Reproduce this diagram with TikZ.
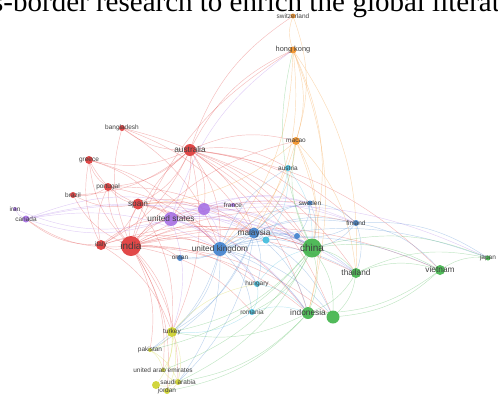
\documentclass[tikz,border=0pt]{standalone}
\usepackage{fontspec}
\setmainfont{Liberation Serif}
\newfontfamily\lblfont{Liberation Sans}
\definecolor{vosRed}{RGB}{222,52,52}
\definecolor{vosGreen}{RGB}{62,178,72}
\definecolor{vosBlue}{RGB}{62,128,204}
\definecolor{vosCyan}{RGB}{64,190,222}
\definecolor{vosPurple}{RGB}{166,112,228}
\definecolor{vosYellow}{RGB}{204,208,40}
\definecolor{vosOrange}{RGB}{242,142,32}
\usetikzlibrary{positioning}
\pgfdeclarelayer{background}
\pgfsetlayers{background,main}
\tikzset{
  dot/.style={circle, inner sep=0pt, fill=#1, fill opacity=.9, text opacity=1, draw=none},
  lbl/.style={font=\lblfont\fontsize{6.5}{6.5}\selectfont, text=black!75, inner sep=0pt},
  lblmid/.style={font=\lblfont\fontsize{8.3}{8.3}\selectfont, text=black!75, inner sep=0pt},
  lblbig/.style={font=\lblfont\fontsize{10}{10}\selectfont, text=black!75, inner sep=0pt},
  link/.style={draw=#1, draw opacity=.33, line width=.45pt},
  headtext/.style={inner sep=0pt, font=\fontsize{29}{29}\selectfont},
}

\begin{document}
\begin{tikzpicture}[x=1pt, y=-1pt]
  \clip (0,0) rectangle (498,397);
  \node[headtext, anchor=base west] (headline) at (-8,11) {s-border research to enrich the};
  \node[headtext, anchor=base west] (headline2) at (headline.base east) {\ global literature};

  \node[dot=vosRed, minimum size=20pt, label={[lblbig]center:india}] (india) at (131,246) {};
  \node[dot=vosRed, minimum size=12pt, label={[lblmid]center:australia}] (australia) at (190,150) {};
  \node[dot=vosRed, minimum size=11pt, label={[lblmid]center:spain}] (spain) at (138,204) {};
  \node[dot=vosRed, minimum size=10pt, label={[lbl]center:italy}] (italy) at (101,245) {};
  \node[dot=vosRed, minimum size=8pt, label={[lbl]center:portugal}] (portugal) at (108,187) {};
  \node[dot=vosRed, minimum size=8pt, label={[lbl]center:greece}] (greece) at (89,160) {};
  \node[dot=vosRed, minimum size=6pt, label={[lbl]center:bangladesh}] (bangladesh) at (122,128) {};
  \node[dot=vosRed, minimum size=6pt, label={[lbl]center:brazil}] (brazil) at (73,195) {};

  \node[dot=vosPurple, minimum size=14pt, label={[lblmid]center:united states}] (usa) at (171,219) {};
  \node[dot=vosPurple, minimum size=12pt] (purplex) at (204,209) {};
  \node[dot=vosPurple, minimum size=4pt, label={[lbl]center:france}] (france) at (233,205) {};
  \node[dot=vosPurple, minimum size=7pt, label={[lbl]center:canada}] (canada) at (26,219) {};
  \node[dot=vosPurple, minimum size=4pt, label={[lbl]center:iran}] (iran) at (15,209) {};

  \node[dot=vosBlue, minimum size=14pt, label={[lblmid]center:united kingdom}] (uk) at (220,249) {};
  \node[dot=vosBlue, minimum size=11pt, label={[lblmid]center:malaysia}] (malaysia) at (254,233) {};
  \node[dot=vosBlue, minimum size=6pt] (bluex) at (297,236) {};
  \node[dot=vosBlue, minimum size=5pt, label={[lbl]center:sweden}] (sweden) at (310,203) {};
  \node[dot=vosBlue, minimum size=6pt, label={[lbl]center:finland}] (finland) at (356,223) {};
  \node[dot=vosBlue, minimum size=6pt, label={[lbl]center:oman}] (oman) at (180,258) {};

  \node[dot=vosCyan, minimum size=6pt, label={[lbl]center:austria}] (austria) at (288,168) {};
  \node[dot=vosCyan, minimum size=7pt] (cyanx) at (266,240) {};
  \node[dot=vosCyan, minimum size=6pt, label={[lbl]center:hungary}] (hungary) at (257,284) {};
  \node[dot=vosCyan, minimum size=6pt, label={[lbl]center:romania}] (romania) at (252,312) {};

  \node[dot=vosGreen, minimum size=19pt, label={[lblbig]center:china}] (china) at (312,248) {};
  \node[dot=vosGreen, minimum size=10pt, label={[lblmid]center:thailand}] (thailand) at (356,273) {};
  \node[dot=vosGreen, minimum size=10pt, label={[lblmid]center:vietnam}] (vietnam) at (440,270) {};
  \node[dot=vosGreen, minimum size=5pt, label={[lbl]center:japan}] (japan) at (488,258) {};
  \node[dot=vosGreen, minimum size=12pt, label={[lblmid]center:indonesia}] (indonesia) at (308,313) {};
  \node[dot=vosGreen, minimum size=13pt] (greenx) at (333,317) {};

  \node[dot=vosYellow, minimum size=10pt, label={[lbl]center:turkey}] (turkey) at (172,332) {};
  \node[dot=vosYellow, minimum size=4pt, label={[lbl]center:pakistan}] (pakistan) at (150,350) {};
  \node[dot=vosYellow, minimum size=4pt, label={[lbl]center:united arab emirates}] (uae) at (163,370) {};
  \node[dot=vosYellow, minimum size=8pt] (yellowx) at (156,385) {};
  \node[dot=vosYellow, minimum size=6pt, label={[lbl]center:saudi arabia}] (saudi) at (178,382) {};
  \node[dot=vosYellow, minimum size=6pt, label={[lbl]center:jordan}] (jordan) at (167,391) {};

  \node[dot=vosOrange, minimum size=7pt, label={[lbl, font=\lblfont\fontsize{7.4}{7.4}\selectfont]center:hong kong}] (hongkong) at (293,50) {};
  \node[dot=vosOrange, minimum size=8pt, label={[lbl]center:macao}] (macao) at (296,141) {};
  \node[dot=vosOrange, minimum size=5pt, label={[lbl]center:switzerland}] (switzerland) at (293,16) {};

  \begin{pgfonlayer}{background}
    \foreach \t in {australia,spain,italy,portugal,greece,bangladesh,brazil,usa,purplex,canada,uk,malaysia,oman,china,thailand,indonesia,turkey,pakistan,saudi,uae,hongkong,macao,hungary,romania,sweden,finland,vietnam,jordan,greenx}
      \draw[link=vosRed] (india) to[bend left=18] (\t);
    \foreach \t in {spain,italy,portugal,greece,bangladesh,brazil,usa,purplex,uk,malaysia,china,hongkong,macao,indonesia,thailand,austria,sweden,finland,turkey,vietnam,switzerland,greenx}
      \draw[link=vosRed] (australia) to[bend left=18] (\t);
    \foreach \t in {portugal,greece,italy,usa,uk,china,brazil,malaysia,turkey,indonesia,purplex}
      \draw[link=vosRed] (spain) to[bend left=18] (\t);
    \foreach \t in {portugal,greece,uk,usa,canada,china,turkey}
      \draw[link=vosRed] (italy) to[bend left=18] (\t);
    \foreach \t in {greece,brazil,uk,malaysia}
      \draw[link=vosRed] (portugal) to[bend left=18] (\t);
    \foreach \t in {malaysia,uk,china}
      \draw[link=vosRed] (bangladesh) to[bend left=18] (\t);
    \foreach \t in {uk,usa}
      \draw[link=vosRed] (greece) to[bend left=18] (\t);
    \foreach \t in {canada,iran,purplex,uk,malaysia,china,sweden,finland,thailand,indonesia,turkey,hongkong,hungary,japan}
      \draw[link=vosPurple] (usa) to[bend left=18] (\t);
    \foreach \t in {uk,malaysia,china,sweden,finland,france,bluex}
      \draw[link=vosPurple] (purplex) to[bend left=18] (\t);
    \foreach \t in {iran,uk,china,malaysia,purplex}
      \draw[link=vosPurple] (canada) to[bend left=18] (\t);
    \foreach \t in {malaysia,sweden,finland,oman,china,thailand,indonesia,turkey,hungary,romania,austria,vietnam,pakistan,saudi,japan,bluex,greenx}
      \draw[link=vosBlue] (uk) to[bend left=18] (\t);
    \foreach \t in {china,sweden,finland,thailand,indonesia,turkey,bluex,cyanx,oman,hungary,pakistan,saudi,greenx}
      \draw[link=vosBlue] (malaysia) to[bend left=18] (\t);
    \foreach \t in {finland,china,bluex}
      \draw[link=vosBlue] (sweden) to[bend left=18] (\t);
    \foreach \t in {china,vietnam,japan,thailand,bluex}
      \draw[link=vosBlue] (finland) to[bend left=18] (\t);
    \foreach \t in {malaysia,china,cyanx}
      \draw[link=vosCyan] (austria) to[bend left=18] (\t);
    \foreach \t in {romania,china,indonesia}
      \draw[link=vosCyan] (hungary) to[bend left=18] (\t);
    \foreach \t in {indonesia,turkey}
      \draw[link=vosCyan] (romania) to[bend left=18] (\t);
    \foreach \t in {thailand,vietnam,japan,indonesia,greenx,hongkong,macao,turkey,pakistan,saudi,romania,uae,bluex}
      \draw[link=vosGreen] (china) to[bend left=18] (\t);
    \foreach \t in {vietnam,indonesia,greenx,japan}
      \draw[link=vosGreen] (thailand) to[bend left=18] (\t);
    \foreach \t in {japan,indonesia,greenx}
      \draw[link=vosGreen] (vietnam) to[bend left=18] (\t);
    \foreach \t in {greenx,turkey,saudi,jordan}
      \draw[link=vosGreen] (indonesia) to[bend left=18] (\t);
    \foreach \t in {pakistan,saudi,uae,jordan,yellowx,hungary}
      \draw[link=vosYellow] (turkey) to[bend left=18] (\t);
    \foreach \t in {saudi,uae}
      \draw[link=vosYellow] (pakistan) to[bend left=18] (\t);
    \foreach \t in {jordan,uae,yellowx}
      \draw[link=vosYellow] (saudi) to[bend left=18] (\t);
    \foreach \t in {switzerland,macao,china,malaysia,thailand,indonesia,uk}
      \draw[link=vosOrange] (hongkong) to[bend left=18] (\t);
    \foreach \t in {china,malaysia,thailand,indonesia,spain,uk}
      \draw[link=vosOrange] (macao) to[bend left=18] (\t);
    \draw[link=vosOrange] (switzerland) to[bend left=18] (macao);
  \end{pgfonlayer}
\end{tikzpicture}
\end{document}
